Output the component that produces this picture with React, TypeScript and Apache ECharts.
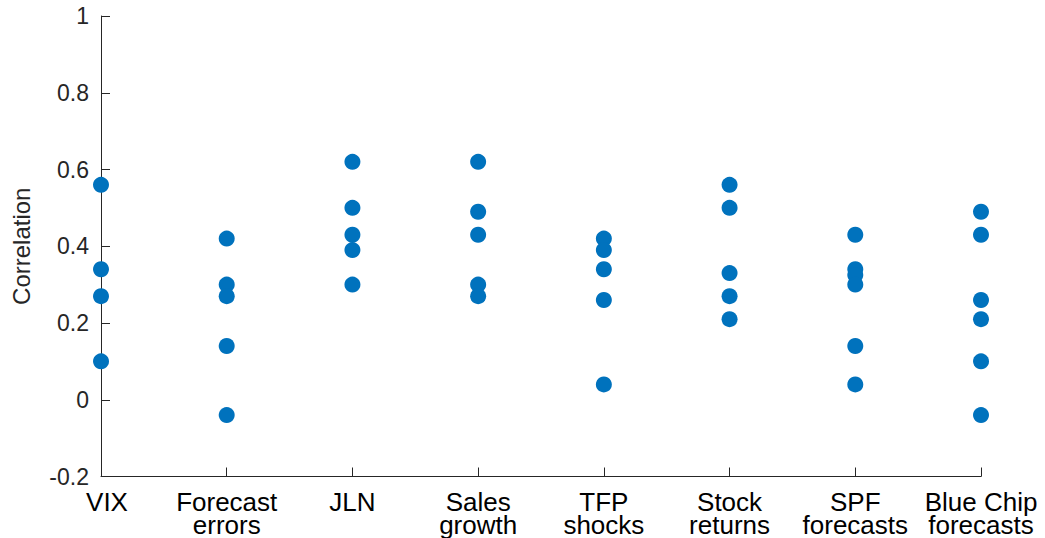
import React, { useEffect, useRef } from "react";
import * as echarts from "echarts";

const categories = [
  "VIX",
  "Forecast\nerrors",
  "JLN",
  "Sales\ngrowth",
  "TFP\nshocks",
  "Stock\nreturns",
  "SPF\nforecasts",
  "Blue Chip\nforecasts",
];

const vix = [0.56, 0.34, 0.27, 0.1];
const forecastErrors = [0.42, 0.3, 0.27, 0.14, -0.04];
const jln = [0.62, 0.5, 0.43, 0.39, 0.3];
const salesGrowth = [0.62, 0.49, 0.43, 0.3, 0.27];
const tfpShocks = [0.42, 0.39, 0.34, 0.26, 0.04];
const stockReturns = [0.56, 0.5, 0.33, 0.27, 0.21];
const spfForecasts = [0.43, 0.34, 0.325, 0.3, 0.14, 0.04];
const blueChipForecasts = [0.49, 0.43, 0.26, 0.21, 0.1, -0.04];

const groups = [vix, forecastErrors, jln, salesGrowth, tfpShocks, stockReturns, spfForecasts, blueChipForecasts];

const yTicks = { min: -0.2, max: 1, interval: 0.2 };

export default function App() {
  const ref = useRef<HTMLDivElement>(null);
  useEffect(() => {
    document.body.style.margin = "0";
    document.body.style.overflow = "hidden";
    document.documentElement.style.overflow = "hidden";
    if (!ref.current) return;
    const chart = echarts.init(ref.current, undefined, { renderer: "svg" });
    const points: [number, number][] = [];
    groups.forEach((g, i) => g.forEach((v) => points.push([i, v])));
    const textColor = "#262626";
    const font = "'Liberation Sans', Arial, Helvetica, sans-serif";
    chart.setOption({
      animation: false,
      backgroundColor: "#ffffff",
      grid: { left: 101, right: 64, top: 16, bottom: 59, containLabel: false },
      xAxis: {
        type: "category",
        boundaryGap: false,
        data: categories.map((c, i) =>
          i === 0 ? { value: c, textStyle: { padding: [0, 0, 0, 12] } } : c
        ),
        axisLine: { onZero: false, lineStyle: { color: textColor, width: 1 } },
        axisTick: { inside: true, length: 9, lineStyle: { color: textColor }, alignWithLabel: true },
        axisLabel: {
          color: "#000000",
          fontSize: 26,
          fontFamily: font,
          lineHeight: 23,
          margin: 14,
          interval: 0,
        },
        splitLine: { show: false },
      },
      yAxis: {
        type: "value",
        min: yTicks.min,
        max: yTicks.max,
        interval: yTicks.interval,
        name: "Correlation",
        nameLocation: "middle",
        nameGap: 68,
        nameTextStyle: { color: textColor, fontSize: 24, fontFamily: font },
        axisLine: { show: true, lineStyle: { color: textColor, width: 1 } },
        axisTick: { show: true, inside: true, length: 9, lineStyle: { color: textColor } },
        axisLabel: {
          color: textColor,
          fontSize: 23,
          fontFamily: font,
          margin: 12,
          padding: [4, 0, 0, 0],
          formatter: (v: number) => String(Math.round(v * 10) / 10),
        },
        splitLine: { show: false },
      },
      series: [
        {
          type: "scatter",
          data: points,
          symbol: "circle",
          symbolSize: 16,
          itemStyle: { color: "#0072BD", opacity: 1 },
          clip: false,
        },
      ],
    });
    return () => chart.dispose();
  }, []);
  return (
    <div
      ref={ref}
      style={{ position: "fixed", left: 0, top: 0, width: 1045, height: 538, overflow: "hidden" }}
    />
  );
}
